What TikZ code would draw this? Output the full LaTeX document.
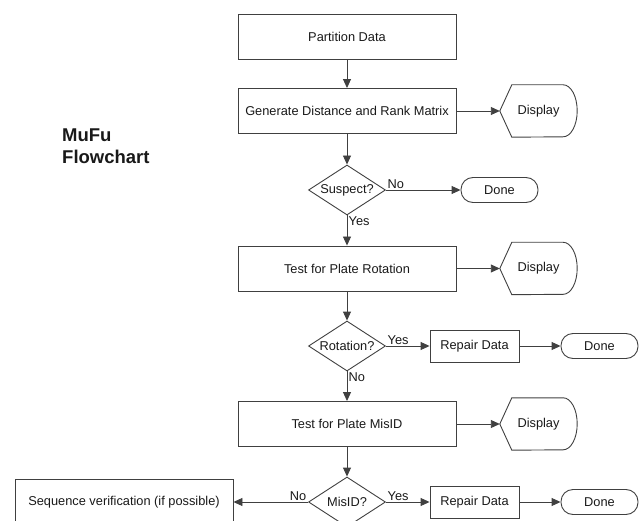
\documentclass[tikz,border=0pt]{standalone}
\usepackage{fontspec}
\setmainfont{Liberation Sans}
\usetikzlibrary{shapes.geometric,arrows.meta}

\tikzset{
  proc/.style={draw=linegray, line width=0.9pt, minimum width=218pt, minimum height=45pt, inner sep=0pt},
  repair/.style={draw=linegray, line width=0.9pt, minimum width=89pt, minimum height=32pt, inner sep=0pt},
  decide/.style={diamond, aspect=1.54, draw=linegray, line width=0.9pt, minimum width=77pt, minimum height=50pt, inner sep=0pt},
  term/.style={draw=linegray, line width=0.9pt, rounded corners=12pt, minimum width=77pt, minimum height=25pt, inner sep=0pt},
  disp/.style={minimum width=77pt, minimum height=52pt, inner sep=0pt},
  flow/.style={draw=linegray, line width=0.9pt, ->, >={Triangle[length=9pt,width=8pt]}},
  lbl/.style={inner sep=1.5pt},
}

\begin{document}
\begin{tikzpicture}[x=1pt, y=-1pt, font=\fontsize{12.8}{15}\selectfont]
    \definecolor{linegray}{RGB}{64,64,64}
    \definecolor{textgray}{RGB}{25,25,25}
    \useasboundingbox (0,0) rectangle (642,521);
    \clip (0,0) rectangle (642,521);

    % main column
    \node[proc, text=textgray] (part) at (347,36.5) {Partition Data};
    \node[proc, text=textgray] (gen) at (347,111) {Generate Distance and Rank Matrix};
    \node[decide, text=textgray] (sus) at (347,190) {Suspect?};
    \node[proc, text=textgray] (rot) at (347,268.5) {Test for Plate Rotation};
    \node[decide, text=textgray] (isrot) at (347,346) {Rotation?};
    \node[proc, text=textgray] (mis) at (347,424) {Test for Plate MisID};
    \node[decide, text=textgray] (ismis) at (347,502) {MisID?};

    % side boxes
    \node[disp, text=textgray] (disp1) at (538.5,111) {Display};
    \node[term, text=textgray] (done1) at (499.5,190) {Done};
    \node[disp, text=textgray] (disp2) at (538.5,268.5) {Display};
    \node[repair, text=textgray] (fix1) at (474.5,346) {Repair Data};
    \node[term, text=textgray] (done2) at (599.5,346) {Done};
    \node[disp, text=textgray] (disp3) at (538.5,424) {Display};
    \node[repair, text=textgray] (fix2) at (474.5,502) {Repair Data};
    \node[term, text=textgray] (done3) at (599.5,502) {Done};
    \node[proc, text=textgray] (seq) at (124,502) {Sequence verification (if possible)};

    % display outlines
    \foreach \d in {disp1,disp2,disp3}
        \draw[linegray, line width=0.9pt] (\d.west) -- ([xshift=12pt]\d.north west)
            -- ([xshift=-14pt]\d.north east) arc (90:-90:14pt and 26pt)
            -- ([xshift=12pt]\d.south west) -- cycle;

    % title
    \node[font=\bfseries\fontsize{18.5}{22}\selectfont, text=textgray, anchor=base west, inner sep=0pt] (mufu) at (62,141.5) {MuFu};
    \node[font=\bfseries\fontsize{18.5}{22}\selectfont, text=textgray, anchor=base west, inner sep=0pt] (fchart) at (62,163.5) {Flowchart};

    % connectors
    \draw[flow] (part) -- (gen);
    \draw[flow] (gen.east) -- (disp1.west);
    \draw[flow] (gen) -- (sus);
    \draw[flow] (sus.east) -- (done1.west);
    \draw[flow] (sus) -- (rot);
    \draw[flow] (rot.east) -- (disp2.west);
    \draw[flow] (rot) -- (isrot);
    \draw[flow] (isrot.east) -- (fix1.west);
    \draw[flow] (fix1.east) -- (done2.west);
    \draw[flow] (isrot) -- (mis);
    \draw[flow] (mis.east) -- (disp3.west);
    \draw[flow] (mis) -- (ismis);
    \draw[flow] (ismis.east) -- (fix2.west);
    \draw[flow] (fix2.east) -- (done3.west);
    \draw[flow] (ismis.west) -- (seq.east);

    % branch labels
    \node[lbl, text=textgray, anchor=south west] (susno) at (sus.east) {No};
    \node[lbl, text=textgray, anchor=north west] (susyes) at (sus.south) {Yes};
    \node[lbl, text=textgray, anchor=south west] (rotyes) at (isrot.east) {Yes};
    \node[lbl, text=textgray, anchor=north west] (rotno) at (isrot.south) {No};
    \node[lbl, text=textgray, anchor=south east] (misno) at (ismis.west) {No};
    \node[lbl, text=textgray, anchor=south west] (misyes) at (ismis.east) {Yes};
\end{tikzpicture}
\end{document}
